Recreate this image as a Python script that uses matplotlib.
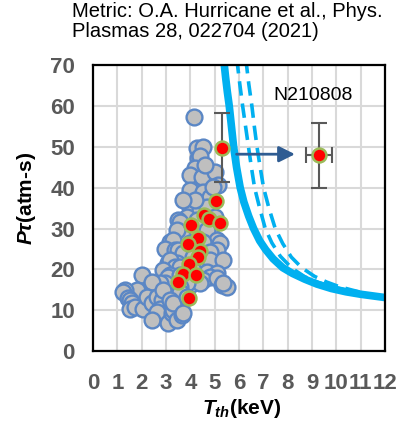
import numpy as np
import matplotlib
matplotlib.use("Agg")
import matplotlib.pyplot as plt

plt.rcParams["font.family"] = "Liberation Sans"
plt.rcParams["mathtext.fontset"] = "custom"
plt.rcParams["mathtext.it"] = "Liberation Sans:italic:bold"
plt.rcParams["mathtext.rm"] = "Liberation Sans:bold"
plt.rcParams["mathtext.bf"] = "Liberation Sans:bold"

# database shots (gray)
db_T = [4.15, 4.26, 4.53, 4.33, 4.40, 4.19, 3.99, 4.47, 5.01, 5.15, 3.99, 4.53,
        4.81, 4.06, 4.94, 4.60,
        3.99, 4.40, 4.67, 4.20, 3.71, 3.85, 3.51, 4.26, 4.94, 4.81, 4.53, 5.01,
        3.58, 3.51, 3.71, 3.44, 3.16, 3.30, 2.96, 3.37, 3.51, 3.99, 4.67, 5.08,
        5.22, 5.08, 4.53, 4.81, 3.71, 4.12, 4.40, 3.44, 3.09, 3.16, 3.37, 3.58,
        2.89, 4.81, 5.36, 4.12, 4.67, 5.08, 4.81, 4.26, 4.53, 5.08, 3.16, 3.09,
        3.58, 5.29, 5.49, 5.36, 3.99, 4.40, 3.85, 3.58, 3.58, 2.96, 2.75,
        2.00, 2.34, 2.41, 1.80, 1.32, 1.25, 1.45, 1.52, 1.59, 1.52, 1.73, 2.07,
        2.20, 2.41, 2.62, 2.82, 2.89, 2.75, 2.62, 2.41, 3.09, 3.23, 3.30, 3.16,
        3.30, 3.44, 3.65, 3.71, 3.85]
db_P = [57.2, 49.6, 50.0, 47.2, 47.8, 44.7, 43.1, 42.7, 43.9, 40.6, 39.4, 39.0,
        37.8, 35.7, 40.2, 45.5,
        35.3, 34.5, 35.3, 37.0, 37.0, 32.9, 32.1, 32.1, 31.2, 29.6, 28.8, 32.9,
        31.6, 29.2, 28.0, 29.6, 26.7, 27.2, 25.1, 24.7, 24.7, 26.4, 29.6, 27.2,
        26.4, 24.7, 26.8, 24.3, 23.9, 23.1, 21.5, 21.5, 21.5, 22.3, 20.6, 20.6,
        19.8, 22.3, 22.3, 19.8, 19.4, 19.0, 18.2, 18.2, 17.4, 17.8, 18.6, 18.2,
        18.6, 16.2, 15.7, 16.6, 16.2, 16.6, 16.6, 15.7, 14.5, 16.6, 16.6,
        18.6, 15.7, 17.0, 14.9, 14.9, 14.5, 12.9, 12.5, 11.7, 10.4, 10.8, 10.4,
        13.3, 11.7, 13.3, 12.5, 14.9, 10.4, 9.6, 7.6, 6.8, 9.2, 10.0, 12.5,
        11.7, 7.6, 8.8, 9.2, 13.3]

# highlighted shots (red)
hl_T = [5.06, 4.55, 4.78, 5.22, 4.03, 4.31, 3.92, 4.40, 4.31, 3.94, 3.69,
        4.22, 3.51, 3.96]
hl_P = [36.8, 33.2, 32.3, 31.4, 30.8, 27.8, 26.3, 24.6, 23.0, 21.2, 18.8,
        18.5, 16.9, 12.9]

# shot with error bar before the arrow
prev_T = [5.29]
prev_P = [49.8]
prev_Perr = [8.4]

# N210808
shot_T = [9.29]
shot_P = [47.9]
shot_Terr = [0.54]
shot_Perr = [8.0]

# ignition metric curves
solid_T = [5.37, 5.45, 5.52, 5.60, 5.69, 5.78, 5.90, 6.05, 6.20, 6.40, 6.60,
           6.85, 7.10, 7.40, 7.80, 8.20, 8.70, 9.20, 9.80, 10.4, 11.0, 11.5, 12.0]
solid_P = [71.5, 67.0, 63.5, 60.0, 55.0, 50.0, 45.0, 40.0, 36.5, 33.0, 30.0,
           27.0, 24.8, 22.6, 20.4, 19.0, 17.6, 16.4, 15.3, 14.5, 13.9, 13.5, 13.1]
dash1_T = [5.91, 6.03, 6.15, 6.27, 6.39, 6.51, 6.64, 6.85, 7.08, 7.35, 7.70,
           8.17, 8.70, 9.30, 9.90, 10.5, 11.0]
dash1_P = [71.5, 65.5, 60.0, 55.0, 50.0, 45.0, 40.0, 35.0, 30.0, 26.5, 23.2,
           20.3, 18.2, 16.7, 15.6, 14.8, 14.2]
dash2_T = [6.28, 6.40, 6.53, 6.63, 6.74, 6.87, 7.01, 7.23, 7.49, 7.80, 8.15,
           8.58, 9.10, 9.60, 10.1, 10.6, 11.0]
dash2_P = [71.5, 65.5, 60.0, 55.0, 50.0, 45.0, 40.0, 35.0, 30.0, 26.3, 23.0,
           20.4, 18.3, 16.9, 15.8, 15.0, 14.4]

arrow_start = (5.9, 48.2)
arrow_end = (8.3, 48.2)

x_ticks = list(range(0, 13))
y_ticks = list(range(0, 71, 10))

fig = plt.figure(figsize=(4.01, 4.26), dpi=100)
ax = fig.add_axes([0.232, 0.176, 0.728, 0.671])

ax.plot(solid_T, solid_P, color="#00B0F0", lw=5.5, zorder=2,
        solid_joinstyle="round")
ax.plot(dash1_T, dash1_P, color="#00B0F0", lw=2.6, dashes=(4, 2.2), zorder=2)
ax.plot(dash2_T, dash2_P, color="#00B0F0", lw=2.6, dashes=(4, 2.2), zorder=2)

ax.scatter(db_T, db_P, s=130, facecolor="#BFBFBF", edgecolor="#5B87C5",
           lw=1.7, zorder=3)

ax.errorbar(prev_T, prev_P, yerr=prev_Perr, fmt="none", ecolor="#595959",
            elinewidth=1.5, capsize=5.5, capthick=1.5, zorder=4)
ax.errorbar(shot_T, shot_P, xerr=shot_Terr, yerr=shot_Perr, fmt="none",
            ecolor="#595959", elinewidth=1.5, capsize=5.5, capthick=1.5,
            zorder=4)
ax.scatter(hl_T + prev_T + shot_T, hl_P + prev_P + shot_P, s=100,
           facecolor="#FF0000", edgecolor="#9BBB59", lw=1.8, zorder=5)

ax.annotate("", xy=arrow_end, xytext=arrow_start,
            arrowprops=dict(arrowstyle="-|>", color="#2F5C92", lw=2,
                            mutation_scale=24, shrinkA=0, shrinkB=0),
            zorder=6)
ax.text(7.42, 62.5, "N210808", fontsize=14, va="center", ha="left")

ax.set_xlim(0, 12)
ax.set_ylim(0, 70)
ax.set_xticks(x_ticks, [str(t) for t in x_ticks], fontweight="bold")
ax.set_yticks(y_ticks, [str(t) for t in y_ticks], fontweight="bold")
ax.tick_params(length=0, labelsize=16, labelcolor="#595959")
ax.tick_params(axis="y", pad=13)
ax.tick_params(axis="x", pad=16)
ax.grid(True, color="#D9D9D9", lw=1.5)
ax.set_axisbelow(True)
for sp in ax.spines.values():
    sp.set_linewidth(1.6)
    sp.set_color("black")

fig.text(0.065, 0.535 * 0.671 + 0.176, r"$P\tau$(atm-s)", rotation=90,
         fontsize=15, fontweight="bold", ha="center", va="center")
fig.text((242 / 401), 1 - 409 / 426, r"$T_{th}$(keV)", fontsize=15,
         fontweight="bold", ha="center", va="center")
fig.text(0.18, 0.995, "Metric: O.A. Hurricane et al., Phys.\nPlasmas 28, 022704 (2021)",
         fontsize=14.5, ha="left", va="top", linespacing=1.05)

fig.savefig("out.png", dpi=100)
